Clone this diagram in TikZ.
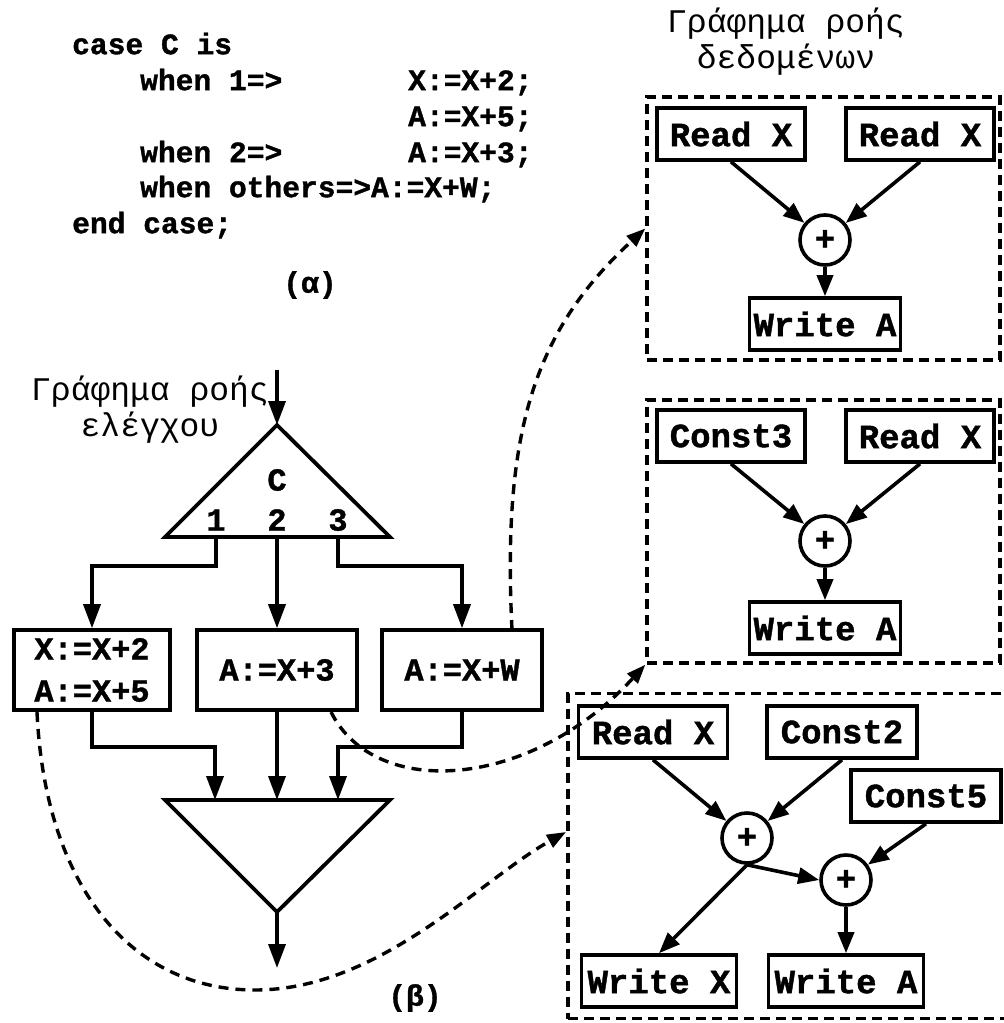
\documentclass[tikz,border=0pt]{standalone}
\usepackage{fontspec}
\usetikzlibrary{arrows.meta,calc}
\newfontfamily\lmono[BoldFeatures={FakeBold=1.2}]{Liberation Mono}
\newcommand\codefont{\lmono\bfseries\fontsize{29.6}{36}\selectfont}
\newcommand\cboxfont{\lmono\bfseries\fontsize{32}{40}\selectfont}
\newcommand\dboxfont{\lmono\bfseries\fontsize{34}{40}\selectfont}
\newcommand\plusfont{\lmono\bfseries\fontsize{34}{40}\selectfont}
\newcommand\titlefont{\lmono\fontsize{33}{36}\selectfont}
\tikzset{
  code/.style={font=\codefont, anchor=mid west, inner sep=0pt},
  lbl/.style={font=\cboxfont, inner sep=0pt},
  title/.style={font=\titlefont, align=center, inner sep=0pt},
  cbox/.style={draw, line width=3.6pt, font=\cboxfont, align=center,
    minimum height=80pt, inner sep=0pt},
  dbox/.style={draw, line width=3.6pt, font=\dboxfont,
    minimum height=52pt, minimum width=148pt, inner sep=0pt},
  plusnode/.style={circle, draw, line width=3.6pt, minimum size=50pt,
    inner sep=0pt, font=\plusfont},
  group/.style={draw, line width=3.4pt, dash pattern=on 10pt off 6pt,
    inner sep=0pt},
  arr/.style={line width=3.6pt, -{Triangle[length=24pt,width=17pt]}},
  darrow/.style={line width=3.6pt, -{Triangle[length=21pt,width=16pt]}},
  darr/.style={line width=3.4pt, dash pattern=on 10pt off 7pt,
    -{Triangle[length=19pt,width=14pt]}},
  shape line/.style={line width=3.8pt, line join=miter}
}
\begin{document}
\begin{tikzpicture}[x=1pt,y=-1pt]
\path[use as bounding box] (0,0) rectangle (1004,1023);

% ---- (a) source code ----
\node[code] (l1) at (72,52) {case C is};
\node[code] (l2) at (140,88) {when 1=>};
\node[code] (l2r) at (408,88) {X:=X+2;};
\node[code] (l3r) at (408,124) {A:=X+5;};
\node[code] (l4) at (140,160) {when 2=>};
\node[code] (l4r) at (408,160) {A:=X+3;};
\node[code] (l5) at (140,195) {when others=>A:=X+W;};
\node[code] (l6) at (72,231) {end case;};
\node[font=\codefont, inner sep=0pt] (alpha) at (310,285) {(α)};

% ---- (b) control flow graph ----
\node[title] (cfgtitle) at (150,410) {Γράφημα ροής\\ελέγχου};

\coordinate (in) at (277,370);
\coordinate (ta) at (277,425);
\coordinate (tl) at (165,537);
\coordinate (tr) at (390,537);
\draw[shape line] (ta) -- (tl) -- (tr) -- cycle;
\draw[arr] (in) -- (ta);
\node[lbl] (cC) at (277,480) {C};
\node[lbl] (c1) at (216,520) {1};
\node[lbl] (c2) at (277,520) {2};
\node[lbl] (c3) at (338,520) {3};
\coordinate (o1) at (216,537);
\coordinate (o2) at (277,537);
\coordinate (o3) at (338,537);

\node[cbox, minimum width=156pt] (bl) at (92,670) {X:=X+2\\[2pt]A:=X+5};
\node[cbox, minimum width=160pt] (bm) at (277,670) {A:=X+3};
\node[cbox, minimum width=160pt] (br) at (462,670) {A:=X+W};

\draw[arr] (o1) -- ++(0,29) -| (bl.north);
\draw[arr] (o2) -- (bm.north);
\draw[arr] (o3) -- ++(0,29) -| (br.north);

\coordinate (m1) at (215,800);
\coordinate (m2) at (277,800);
\coordinate (m3) at (338,800);
\coordinate (bl0) at (165,800);
\coordinate (br0) at (390,800);
\coordinate (bap) at (277,912);
\coordinate (out) at (277,968);
\draw[shape line] (bl0) -- (br0) -- (bap) -- cycle;
\draw[arr] (bl.south) -- ++(0,35) -| (m1);
\draw[arr] (bm.south) -- (m2);
\draw[arr] (br.south) -- ++(0,35) -| (m3);
\draw[arr] (bap) -- (out);

\node[font=\codefont, inner sep=0pt] (beta) at (415,998) {(β)};

% ---- data flow graphs ----
\node[title] (dfgtitle) at (786,42) {Γράφημα ροής\\δεδομένων};

% first group
\node[group, minimum width=353pt, minimum height=263pt] (g1) at (823.5,228.5) {};
\node[dbox] (g1a) at (731,134) {Read X};
\node[dbox] (g1b) at (920,134) {Read X};
\node[plusnode] (g1p) at (825,240) {+};
\node[dbox, minimum width=151pt] (g1w) at (825,324) {Write A};
\draw[darrow] (g1a.south) -- (g1p);
\draw[darrow] (g1b.south) -- (g1p);
\draw[darrow] (g1p) -- (g1w);

% second group
\node[group, minimum width=353pt, minimum height=263pt] (g2) at (823.5,531.5) {};
\node[dbox] (g2a) at (731,436) {Const3};
\node[dbox] (g2b) at (920,436) {Read X};
\node[plusnode] (g2p) at (825,541) {+};
\node[dbox, minimum width=151pt] (g2w) at (825,628) {Write A};
\draw[darrow] (g2a.south) -- (g2p);
\draw[darrow] (g2b.south) -- (g2p);
\draw[darrow] (g2p) -- (g2w);

% third group
\node[group, minimum width=446pt, minimum height=325pt] (g3) at (791,856) {};
\node[dbox, minimum width=149pt] (g3a) at (653,732) {Read X};
\node[dbox, minimum width=150pt] (g3b) at (842,732) {Const2};
\node[dbox, minimum width=150pt] (g3c) at (926,796) {Const5};
\node[plusnode] (g3p) at (747,838) {+};
\node[plusnode] (g3q) at (846,880) {+};
\node[dbox, minimum width=155pt] (g3x) at (659,981) {Write X};
\node[dbox, minimum width=155pt] (g3w) at (846,981) {Write A};
\draw[darrow] (g3a.south) -- (g3p);
\draw[darrow] (g3b.south) -- (g3p);
\draw[darrow] (g3c.south) -- (g3q);
\draw[darrow] (g3p.south) -- (g3q.west);
\draw[darrow] (g3p.south) -- (g3x.north);
\draw[darrow] (g3q) -- (g3w);

% ---- dashed links from the blocks to their data flow graphs ----
\coordinate (s1) at (512,630);
\draw[darr] (s1) .. controls (502,430) and (535,330) .. (g1.west);
\coordinate (s2) at (331,712);
\draw[darr] (s2) .. controls (375,800) and (530,790) .. (g2.south west);
\coordinate (s3) at (37,712);
\coordinate (s3m) at (255,990);
\coordinate (e3) at (566,832);
\draw[darr] (s3) .. controls (45,885) and (130,990) .. (s3m)
  .. controls (380,990) and (480,880) .. (e3);
\end{tikzpicture}
\end{document}
